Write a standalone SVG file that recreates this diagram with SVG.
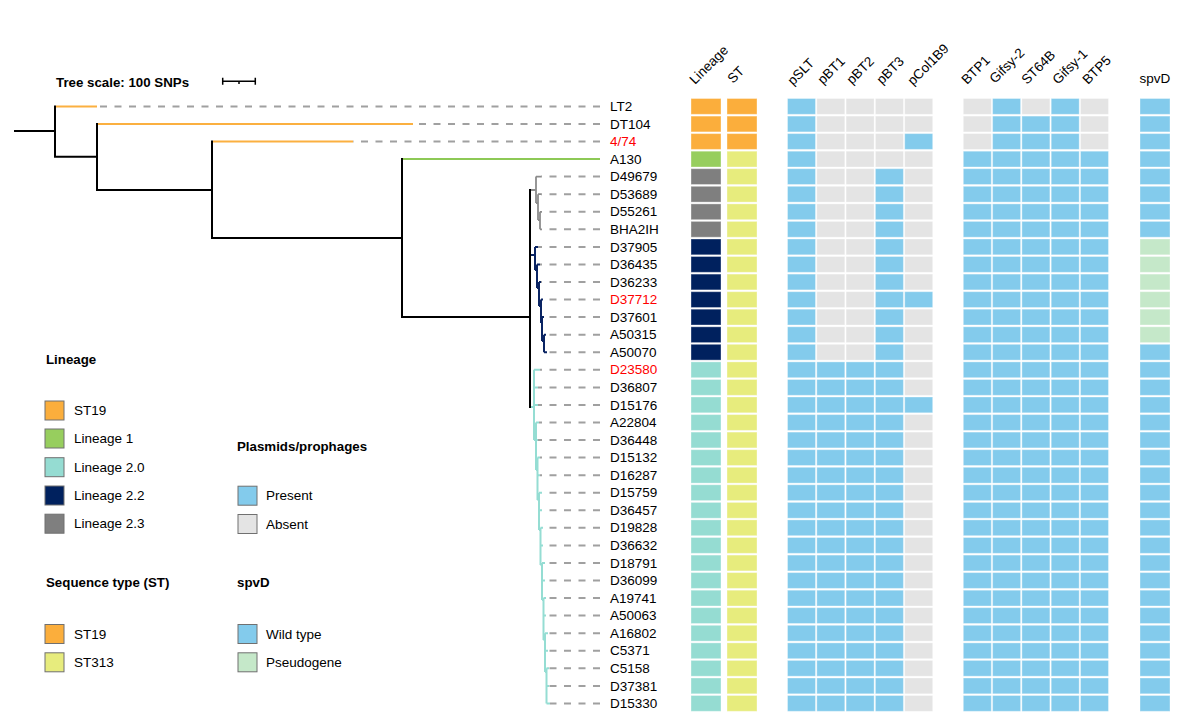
<svg xmlns="http://www.w3.org/2000/svg" xmlns:xlink="http://www.w3.org/1999/xlink" width="1200" height="723" viewBox="0 0 1200 723">
<style>
text{font-family:"Liberation Sans",Arial,sans-serif;font-size:13.5px;fill:#000}
.b{font-weight:bold;font-size:13.3px}
.red{fill:#ff0000}
.o{fill:#FBAE3C}.g{fill:#97CE5E}.t{fill:#95DCD2}.n{fill:#00215E}.k{fill:#7F7F7F}.y{fill:#E7EC7D}.p{fill:#83CBEC}.a{fill:#E4E4E4}.s{fill:#C5E8C9}
.cell rect{stroke:#ffffff;stroke-opacity:.35;stroke-width:1}
.sw{stroke:#707070;stroke-width:1}
.tree{fill:none;stroke:#000;stroke-width:2}
.dash{fill:none;stroke:#a0a0a0;stroke-width:2;stroke-dasharray:7 7.5}
.or{fill:none;stroke:#FBB040;stroke-width:2}
.gr{fill:none;stroke:#8DC956;stroke-width:2}
.gy{fill:none;stroke:#8c8c8c;stroke-width:1.8}
.nv{fill:none;stroke:#0a2463;stroke-width:2}
.tl{fill:none;stroke:#95DDD3;stroke-width:2}
</style>
<defs>
<g id="pl10000" class="cell"><rect class="p" x="787.5" width="28" height="15.8"/><rect class="a" x="816.8" width="28" height="15.8"/><rect class="a" x="846.1" width="28" height="15.8"/><rect class="a" x="875.4" width="28" height="15.8"/><rect class="a" x="904.7" width="28" height="15.8"/></g>
<g id="pl10001" class="cell"><rect class="p" x="787.5" width="28" height="15.8"/><rect class="a" x="816.8" width="28" height="15.8"/><rect class="a" x="846.1" width="28" height="15.8"/><rect class="a" x="875.4" width="28" height="15.8"/><rect class="p" x="904.7" width="28" height="15.8"/></g>
<g id="pl10010" class="cell"><rect class="p" x="787.5" width="28" height="15.8"/><rect class="a" x="816.8" width="28" height="15.8"/><rect class="a" x="846.1" width="28" height="15.8"/><rect class="p" x="875.4" width="28" height="15.8"/><rect class="a" x="904.7" width="28" height="15.8"/></g>
<g id="pl10011" class="cell"><rect class="p" x="787.5" width="28" height="15.8"/><rect class="a" x="816.8" width="28" height="15.8"/><rect class="a" x="846.1" width="28" height="15.8"/><rect class="p" x="875.4" width="28" height="15.8"/><rect class="p" x="904.7" width="28" height="15.8"/></g>
<g id="pl11110" class="cell"><rect class="p" x="787.5" width="28" height="15.8"/><rect class="p" x="816.8" width="28" height="15.8"/><rect class="p" x="846.1" width="28" height="15.8"/><rect class="p" x="875.4" width="28" height="15.8"/><rect class="a" x="904.7" width="28" height="15.8"/></g>
<g id="pl11111" class="cell"><rect class="p" x="787.5" width="28" height="15.8"/><rect class="p" x="816.8" width="28" height="15.8"/><rect class="p" x="846.1" width="28" height="15.8"/><rect class="p" x="875.4" width="28" height="15.8"/><rect class="p" x="904.7" width="28" height="15.8"/></g>
<g id="ph01010" class="cell"><rect class="a" x="963.3" width="28" height="15.8"/><rect class="p" x="992.6" width="28" height="15.8"/><rect class="a" x="1021.9" width="28" height="15.8"/><rect class="p" x="1051.2" width="28" height="15.8"/><rect class="a" x="1080.5" width="28" height="15.8"/></g>
<g id="ph01110" class="cell"><rect class="a" x="963.3" width="28" height="15.8"/><rect class="p" x="992.6" width="28" height="15.8"/><rect class="p" x="1021.9" width="28" height="15.8"/><rect class="p" x="1051.2" width="28" height="15.8"/><rect class="a" x="1080.5" width="28" height="15.8"/></g>
<g id="ph11111" class="cell"><rect class="p" x="963.3" width="28" height="15.8"/><rect class="p" x="992.6" width="28" height="15.8"/><rect class="p" x="1021.9" width="28" height="15.8"/><rect class="p" x="1051.2" width="28" height="15.8"/><rect class="p" x="1080.5" width="28" height="15.8"/></g>
<g id="spW" class="cell"><rect class="p" x="1140" width="30" height="15.8"/></g>
<g id="spP" class="cell"><rect class="s" x="1140" width="30" height="15.8"/></g>
<g id="LoSo" class="cell"><rect class="o" x="691" width="30" height="15.8"/><rect class="o" x="727" width="30" height="15.8"/></g>
<g id="LgSy" class="cell"><rect class="g" x="691" width="30" height="15.8"/><rect class="y" x="727" width="30" height="15.8"/></g>
<g id="LkSy" class="cell"><rect class="k" x="691" width="30" height="15.8"/><rect class="y" x="727" width="30" height="15.8"/></g>
<g id="LnSy" class="cell"><rect class="n" x="691" width="30" height="15.8"/><rect class="y" x="727" width="30" height="15.8"/></g>
<g id="LtSy" class="cell"><rect class="t" x="691" width="30" height="15.8"/><rect class="y" x="727" width="30" height="15.8"/></g>
<g id="r0"><use href="#LoSo"/><use href="#pl10000"/><use href="#ph01010"/><use href="#spW"/></g>
<g id="r1"><use href="#LoSo"/><use href="#pl10000"/><use href="#ph01110"/><use href="#spW"/></g>
<g id="r2"><use href="#LoSo"/><use href="#pl10001"/><use href="#ph01110"/><use href="#spW"/></g>
<g id="r3"><use href="#LgSy"/><use href="#pl10000"/><use href="#ph11111"/><use href="#spW"/></g>
<g id="r4"><use href="#LkSy"/><use href="#pl10010"/><use href="#ph11111"/><use href="#spW"/></g>
<g id="r8"><use href="#LnSy"/><use href="#pl10010"/><use href="#ph11111"/><use href="#spP"/></g>
<g id="r11"><use href="#LnSy"/><use href="#pl10011"/><use href="#ph11111"/><use href="#spP"/></g>
<g id="r14"><use href="#LnSy"/><use href="#pl10010"/><use href="#ph11111"/><use href="#spW"/></g>
<g id="r15"><use href="#LtSy"/><use href="#pl11110"/><use href="#ph11111"/><use href="#spW"/></g>
<g id="r17"><use href="#LtSy"/><use href="#pl11111"/><use href="#ph11111"/><use href="#spW"/></g>
</defs>
<rect width="1200" height="723" fill="#fff"/>

<g id="headers">
<text transform="rotate(-45 695 85)" x="695" y="85">Lineage</text>
<text transform="rotate(-45 733 84)" x="733" y="84">ST</text>
<text transform="rotate(-45 793 86)" x="793" y="86">pSLT</text>
<text transform="rotate(-45 823 85)" x="823" y="85">pBT1</text>
<text transform="rotate(-45 852 85)" x="852" y="85">pBT2</text>
<text transform="rotate(-45 882 85)" x="882" y="85">pBT3</text>
<text transform="rotate(-45 913 86)" x="913" y="86">pCol1B9</text>
<text transform="rotate(-45 967 85)" x="967" y="85">BTP1</text>
<text transform="rotate(-45 995 84)" x="995" y="84">Gifsy-2</text>
<text transform="rotate(-45 1027 85)" x="1027" y="85">ST64B</text>
<text transform="rotate(-45 1058 85)" x="1058" y="85">Gifsy-1</text>
<text transform="rotate(-45 1088 85)" x="1088" y="85">BTP5</text>
<text x="1155" y="83" text-anchor="middle">spvD</text>
</g>

<g id="connectors">
<path class="dash" d="M600,106.4H97M600,124H413M600,141.5H353M600,176.6H541M600,194.2H541M600,211.8H542M600,229.3H542M600,246.9H538M600,264.4H540M600,282H541M600,299.6H543M600,317.1H544M600,334.7H546M600,352.2H547M600,369.8H540M600,387.4H538M600,404.9H538M600,422.5H539M600,440H538M600,457.6H540M600,475.2H540M600,492.7H542M600,510.3H542M600,527.8H543M600,545.4H543M600,563H545M600,580.5H545M600,598.1H546M600,615.6H546M600,633.2H548M600,650.8H548M600,668.3H549M600,685.9H549M600,703.4H550"/>
<path class="tree" d="M14,131H56M55,105.4V157.7M55,156.7H98M97,123V191M97,190H213M212,140.5V239M212,238H403M402,158.1V318M402,317H531M530,189V408"/>
<path class="or" d="M56,106.4H97M98,124H413M213,141.5H353"/>
<path class="gr" d="M403,159.1H600"/>
<path class="gy" d="M531,190H536M536,176.6V203M536,176.6H541M536,203H538M538,194.2V220M538,194.2H541M538,220H540M540,211.8V229.3M540,211.8H542M540,229.3H542"/>
<path class="nv" d="M531,255H535M535,246.9V270M535,246.9H538M535,270H537M537,264.4V288M537,264.4H540M537,288H539M539,282V306M539,282H541M539,306H541M541,299.6V323M541,299.6H543M541,323H542M542,317.1V341M542,317.1H544M542,341H544M544,334.7V352.2M544,334.7H546M544,352.2H547"/>
<path class="tl" d="M531,407H534M534,369.8V440M534,369.8H540M534,387.4H538M534,404.9H538M534,440H536M536,422.5V470M536,422.5H539M536,440H538M536,470H537.5M537.5,457.6V500M537.5,457.6H540M537.5,475.2H540M537.5,500H539M539,492.7V530M539,492.7H542M539,510.3H542M539,530H540.5M540.5,527.8V565M540.5,527.8H543M540.5,545.4H543M540.5,565H542M542,563V600M542,563H545M542,580.5H545M542,600H543.5M543.5,598.1V640M543.5,598.1H546M543.5,615.6H546M543.5,640H545M545,633.2V672M545,633.2H548M545,650.8H548M545,672H546.5M546.5,668.3V703.4M546.5,668.3H549M546.5,685.9H549M546.5,703.4H550"/>
</g>

<g id="leaf-LT2"><use href="#r0" y="98.5"/><text x="610" y="111">LT2</text></g>
<g id="leaf-DT104"><use href="#r1" y="116.1"/><text x="610" y="128.6">DT104</text></g>
<g id="leaf-4-74"><use href="#r2" y="133.6"/><text class="red" x="610" y="146.1">4/74</text></g>
<g id="leaf-A130"><use href="#r3" y="151.2"/><text x="610" y="163.7">A130</text></g>
<g id="leaf-D49679"><use href="#r4" y="168.7"/><text x="610" y="181.2">D49679</text></g>
<g id="leaf-D53689"><use href="#r4" y="186.3"/><text x="610" y="198.8">D53689</text></g>
<g id="leaf-D55261"><use href="#r4" y="203.9"/><text x="610" y="216.4">D55261</text></g>
<g id="leaf-BHA2IH"><use href="#r4" y="221.4"/><text x="610" y="233.9">BHA2IH</text></g>
<g id="leaf-D37905"><use href="#r8" y="239"/><text x="610" y="251.5">D37905</text></g>
<g id="leaf-D36435"><use href="#r8" y="256.5"/><text x="610" y="269">D36435</text></g>
<g id="leaf-D36233"><use href="#r8" y="274.1"/><text x="610" y="286.6">D36233</text></g>
<g id="leaf-D37712"><use href="#r11" y="291.7"/><text class="red" x="610" y="304.2">D37712</text></g>
<g id="leaf-D37601"><use href="#r8" y="309.2"/><text x="610" y="321.7">D37601</text></g>
<g id="leaf-A50315"><use href="#r8" y="326.8"/><text x="610" y="339.3">A50315</text></g>
<g id="leaf-A50070"><use href="#r14" y="344.3"/><text x="610" y="356.8">A50070</text></g>
<g id="leaf-D23580"><use href="#r15" y="361.9"/><text class="red" x="610" y="374.4">D23580</text></g>
<g id="leaf-D36807"><use href="#r15" y="379.5"/><text x="610" y="392">D36807</text></g>
<g id="leaf-D15176"><use href="#r17" y="397"/><text x="610" y="409.5">D15176</text></g>
<g id="leaf-A22804"><use href="#r15" y="414.6"/><text x="610" y="427.1">A22804</text></g>
<g id="leaf-D36448"><use href="#r15" y="432.1"/><text x="610" y="444.6">D36448</text></g>
<g id="leaf-D15132"><use href="#r15" y="449.7"/><text x="610" y="462.2">D15132</text></g>
<g id="leaf-D16287"><use href="#r15" y="467.3"/><text x="610" y="479.8">D16287</text></g>
<g id="leaf-D15759"><use href="#r15" y="484.8"/><text x="610" y="497.3">D15759</text></g>
<g id="leaf-D36457"><use href="#r15" y="502.4"/><text x="610" y="514.9">D36457</text></g>
<g id="leaf-D19828"><use href="#r15" y="519.9"/><text x="610" y="532.4">D19828</text></g>
<g id="leaf-D36632"><use href="#r15" y="537.5"/><text x="610" y="550">D36632</text></g>
<g id="leaf-D18791"><use href="#r15" y="555.1"/><text x="610" y="567.6">D18791</text></g>
<g id="leaf-D36099"><use href="#r15" y="572.6"/><text x="610" y="585.1">D36099</text></g>
<g id="leaf-A19741"><use href="#r15" y="590.2"/><text x="610" y="602.7">A19741</text></g>
<g id="leaf-A50063"><use href="#r15" y="607.7"/><text x="610" y="620.2">A50063</text></g>
<g id="leaf-A16802"><use href="#r15" y="625.3"/><text x="610" y="637.8">A16802</text></g>
<g id="leaf-C5371"><use href="#r15" y="642.9"/><text x="610" y="655.4">C5371</text></g>
<g id="leaf-C5158"><use href="#r15" y="660.4"/><text x="610" y="672.9">C5158</text></g>
<g id="leaf-D37381"><use href="#r15" y="678"/><text x="610" y="690.5">D37381</text></g>
<g id="leaf-D15330"><use href="#r15" y="695.5"/><text x="610" y="708">D15330</text></g>

<g id="scale">
<text class="b" x="56" y="86.5">Tree scale: 100 SNPs</text>
<path d="M222,81.3H256M222.7,77.8V84.8M255.3,77.8V84.8M239,81V84" fill="none" stroke="#000" stroke-width="1.5"/>
</g>

<g id="legend-lineage">
<text class="b" x="46" y="363.6">Lineage</text>
<rect class="sw o" x="45" y="401" width="19" height="19"/><text x="74" y="415.1">ST19</text>
<rect class="sw g" x="45" y="429" width="19" height="19"/><text x="74" y="443.1">Lineage 1</text>
<rect class="sw t" x="45" y="457.7" width="19" height="19"/><text x="74" y="471.8">Lineage 2.0</text>
<rect class="sw n" x="45" y="486" width="19" height="19"/><text x="74" y="500.1">Lineage 2.2</text>
<rect class="sw k" x="45" y="514.2" width="19" height="19"/><text x="74" y="528.3">Lineage 2.3</text>
</g>
<g id="legend-plasmids">
<text class="b" x="237" y="450.6">Plasmids/prophages</text>
<rect class="sw p" x="238" y="486.2" width="19" height="19"/><text x="266" y="500.3">Present</text>
<rect class="sw a" x="238" y="514.5" width="19" height="19"/><text x="266" y="528.6">Absent</text>
</g>
<g id="legend-st">
<text class="b" x="46" y="587">Sequence type (ST)</text>
<rect class="sw o" x="45" y="624.5" width="19" height="19"/><text x="74" y="638.6">ST19</text>
<rect class="sw y" x="45" y="652.8" width="19" height="19"/><text x="74" y="666.9">ST313</text>
</g>
<g id="legend-spvd">
<text class="b" x="237" y="587">spvD</text>
<rect class="sw p" x="238" y="624.5" width="19" height="19"/><text x="266" y="638.6">Wild type</text>
<rect class="sw s" x="238" y="652.8" width="19" height="19"/><text x="266" y="666.9">Pseudogene</text>
</g>
</svg>
